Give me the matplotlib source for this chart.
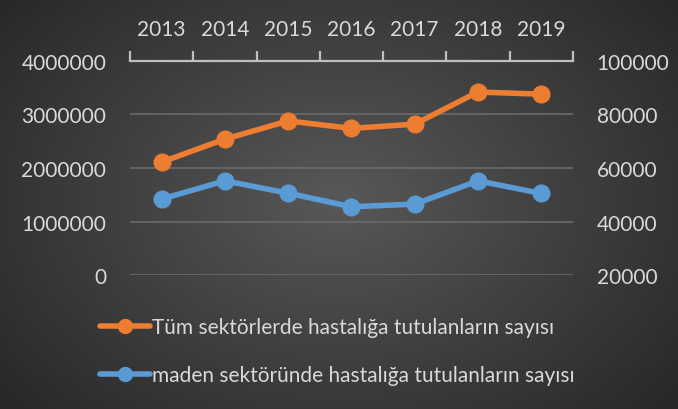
import numpy as np
import matplotlib
matplotlib.use("Agg")
import matplotlib.pyplot as plt

# ------------------------------------------------
# DATA
# ------------------------------------------------
years = ["2013", "2014", "2015", "2016", "2017", "2018", "2019"]
all_sectors = [2110000, 2540000, 2880000, 2740000, 2820000, 3420000, 3380000]
mining_sector = [48400, 55200, 50600, 45500, 46500, 55200, 50500]

left_ticks = [0, 1000000, 2000000, 3000000, 4000000]
right_ticks = [20000, 40000, 60000, 80000, 100000]

label_all = "Tüm sektörlerde hastalığa tutulanların sayısı"
label_mining = "maden sektöründe hastalığa tutulanların sayısı"

ORANGE = "#ED7D31"
BLUE = "#5B9BD5"
TEXT = "#D9D9D9"

plt.rcParams["font.family"] = ["Lato", "DejaVu Sans"]

fig = plt.figure(figsize=(6.78, 4.10), dpi=100)

# radial gradient background
bg = fig.add_axes([0, 0, 1, 1], zorder=-10)
yy, xx = np.mgrid[0:410, 0:678]
r = np.sqrt(((xx - 339) / 420.0) ** 2 + ((yy - 200) / 300.0) ** 2)
shade = np.clip(0.345 - 0.18 * r, 0.16, 0.345)
bg.imshow(np.dstack([shade] * 3), aspect="auto", extent=[0, 1, 0, 1])
bg.set_axis_off()

ax = fig.add_axes([0.1917, 0.3268, 0.6533, 0.522])
ax.patch.set_visible(False)
x = np.arange(len(years))

ax.plot(x, all_sectors, color=ORANGE, lw=4, marker="o", ms=12,
        solid_capstyle="round", label=label_all, zorder=3)
ax.set_xlim(-0.5, len(years) - 0.5)
ax.set_ylim(0, 4000000)
ax.set_yticks(left_ticks)
ax.set_yticklabels([str(t) for t in left_ticks])
for yv in left_ticks[:-1]:
    ax.axhline(yv, color="#6a6a6a", lw=1.2, zorder=1)

ax2 = ax.twinx()
ax2.plot(x, mining_sector, color=BLUE, lw=4, marker="o", ms=12,
         solid_capstyle="round", label=label_mining, zorder=3)
ax2.set_ylim(20000, 100000)
ax2.set_yticks(right_ticks)
ax2.set_yticklabels([str(t) for t in right_ticks])

# category axis on top
ax.xaxis.tick_top()
ax.set_xticks(x)
ax.set_xticklabels(years)
ax.set_xticks(np.arange(-0.5, len(years)), minor=True)
ax.tick_params(axis="x", which="major", length=0, pad=16, labelsize=15, labelcolor=TEXT)
ax.tick_params(axis="x", which="minor", length=7, width=1.6, color="#BFBFBF",
               direction="out")
ax.tick_params(axis="y", length=0, pad=17, labelsize=15, labelcolor=TEXT)
ax2.tick_params(axis="y", length=0, pad=17, labelsize=15, labelcolor=TEXT)

for a in (ax, ax2):
    for side in ("left", "right", "bottom", "top"):
        a.spines[side].set_visible(False)
ax.spines["top"].set_visible(True)
ax.spines["top"].set_color("#BFBFBF")
ax.spines["top"].set_linewidth(1.6)

h1, l1 = ax.get_legend_handles_labels()
h2, l2 = ax2.get_legend_handles_labels()
leg = fig.legend(h1 + h2, l1 + l2, loc="upper left", bbox_to_anchor=(0.135, 0.245),
                 frameon=False, fontsize=15, labelcolor=TEXT, handlelength=2.4,
                 handletextpad=0.1, labelspacing=1.35, borderaxespad=0)
for line in leg.get_lines():
    line.set_markersize(10)

plt.savefig("out.png", dpi=100)
plt.close()
